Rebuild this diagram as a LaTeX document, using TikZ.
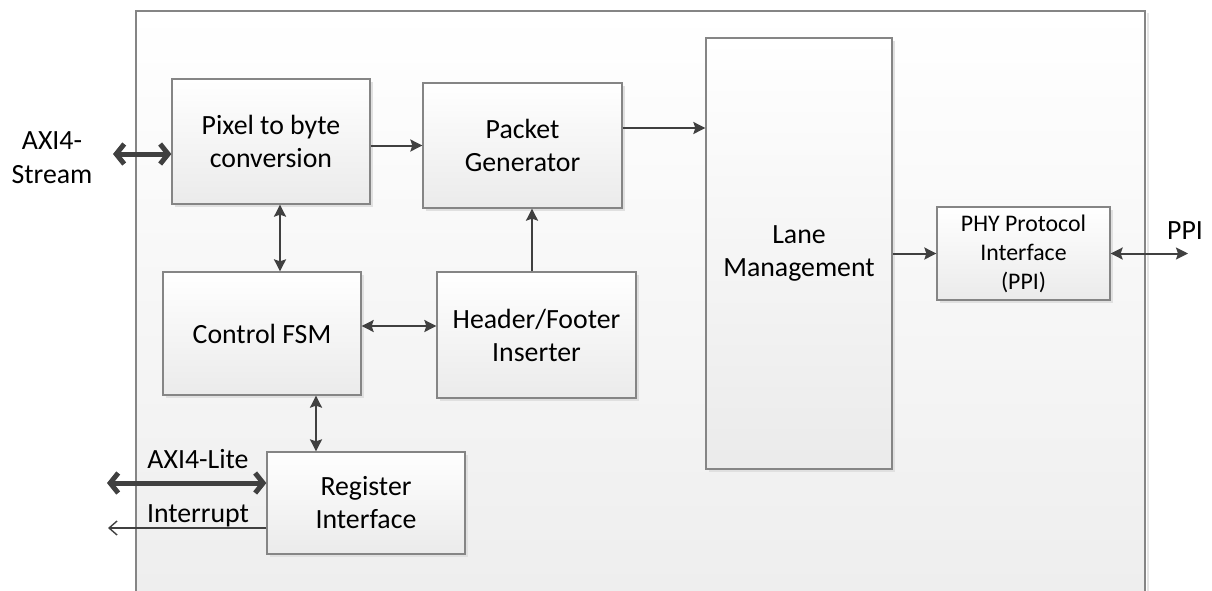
\documentclass[tikz,border=0pt]{standalone}
\usepackage{fontspec}
\setmainfont{Carlito}
\usetikzlibrary{arrows.meta,shadows,calc}
\definecolor{linecol}{HTML}{404040}
\definecolor{bordercol}{HTML}{858585}
\begin{document}
\begin{tikzpicture}[x=1pt,y=-1pt,
  blk/.style={draw=bordercol,line width=1.3pt,rectangle,inner sep=0pt,align=center,
    top color=white,bottom color=black!8,
    drop shadow={shadow xshift=2.5pt,shadow yshift=-2.5pt,fill=black!12,opacity=1},
    font=\fontsize{27.8}{33}\selectfont},
  lbl/.style={inner sep=0pt,align=center,font=\fontsize{27.8}{34}\selectfont},
  arr/.style={draw=linecol,line width=2pt,-{Stealth[length=12pt,width=12pt,inset=2pt]}},
  dbl/.style={draw=linecol,line width=2pt,{Stealth[length=12pt,width=12pt,inset=2pt]}-{Stealth[length=12pt,width=12pt,inset=2pt]}},
  thick dbl/.style={draw=linecol,line width=5pt,{Straight Barb[length=8pt,width=20pt]}-{Straight Barb[length=8pt,width=20pt]}},
  thin arr/.style={draw=linecol,line width=1.4pt,-{Straight Barb[length=8pt,width=14pt]}}
]
\useasboundingbox (0,0) rectangle (1212,590);
\clip (0,0) rectangle (1212,590);
% outer container
\path[top color=white,bottom color=black!7,draw=bordercol,line width=1.3pt]
  (136,11) rectangle (1145,620);
\fill[black!10] (1146.5,13) rectangle (1149,620);

% blocks
\node[blk,minimum width=198pt,minimum height=125pt] (pix) at (271,141.5) {Pixel to byte\\conversion};
\node[blk,minimum width=199pt,minimum height=125pt] (pkt) at (522.5,145.5) {Packet\\Generator};
\node[blk,minimum width=186pt,minimum height=431pt] (lane) at (799,253.5) {Lane\\Management};
\node[blk,minimum width=173pt,minimum height=93pt,font=\fontsize{23.8}{29}\selectfont] (phy) at (1023.5,253.5) {PHY Protocol\\Interface\\(PPI)};
\node[blk,minimum width=198pt,minimum height=123pt] (ctrl) at (262,333.5) {Control FSM};
\node[blk,minimum width=199pt,minimum height=126pt] (hdr) at (536.5,335) {Header/Footer\\Inserter};
\node[blk,minimum width=198pt,minimum height=102pt] (reg) at (366,503) {Register\\Interface};

% external labels
\node[lbl] (axis) at (52,158) {AXI4-\\Stream};
\node[lbl,anchor=base] (axil) at (198,468) {AXI4-Lite};
\node[lbl,anchor=base] (intr) at (198,522) {Interrupt};
\node[lbl,anchor=base] (ppil) at (1185,239) {PPI};

\coordinate (axisend) at (113,154);
\coordinate (axilend) at (107,483);
\coordinate (intrend) at (108,528);
\coordinate (ppiend) at (1188,253.5);

% connectors
\draw[thick dbl] (axisend) -- (axisend -| pix.west);
\draw[arr] (pix.east |- pkt.west) -- (pkt.west);
\draw[arr] ([yshift=17.5pt]pkt.east) -- ([yshift=17.5pt]pkt.east -| lane.west);
\draw[arr] (lane.east |- phy.west) -- (phy.west);
\draw[dbl] (phy.east) -- (ppiend);
\draw[dbl] ([xshift=9pt]pix.south) -- ([xshift=9pt]pix.south |- ctrl.north);
\draw[dbl] ([yshift=7.5pt]ctrl.east) -- ([yshift=7.5pt]ctrl.east -| hdr.west);
\draw[arr] ([xshift=-4.5pt]hdr.north) -- ([xshift=-4.5pt]hdr.north |- pkt.south);
\draw[dbl] ([xshift=54pt]ctrl.south) -- ([xshift=54pt]ctrl.south |- reg.north);
\draw[thick dbl] (axilend) -- (axilend -| reg.west);
\draw[thin arr] (intrend -| reg.west) -- (intrend);
\end{tikzpicture}
\end{document}
